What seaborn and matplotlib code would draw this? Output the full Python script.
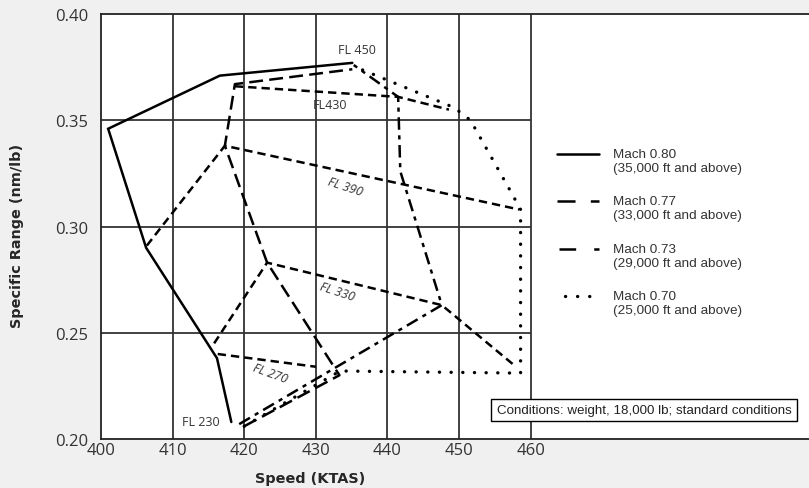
import numpy as np
import pandas as pd

import seaborn as sns
import matplotlib.pyplot as plt


# speed (KTAS) / specific range (nm/lb)
mach080_speed = [418.2, 416.2, 406.3, 401.0, 416.6, 435.1]
mach080_sr = [0.208, 0.238, 0.290, 0.346, 0.371, 0.377]

mach077_speed = [420.0, 433.3, 423.2, 417.3, 418.7, 435.1]
mach077_sr = [0.206, 0.230, 0.283, 0.338, 0.367, 0.374]

mach073_speed = [419.3, 447.6, 441.8, 441.5, 435.3]
mach073_sr = [0.207, 0.263, 0.326, 0.361, 0.376]

mach070_speed = [420.0, 433.4, 458.6, 458.6, 457.3, 451.6, 449.3, 436.3]
mach070_sr = [0.206, 0.232, 0.231, 0.308, 0.316, 0.350, 0.356, 0.374]

fl430_speed = [418.7, 441.5, 448.6]
fl430_sr = [0.366, 0.361, 0.355]

fl390_speed = [406.4, 417.3, 458.4]
fl390_sr = [0.291, 0.338, 0.308]

fl330_speed = [415.8, 423.2, 447.6, 457.6]
fl330_sr = [0.245, 0.283, 0.263, 0.235]

fl270_speed = [416.3, 430.0]
fl270_sr = [0.240, 0.234]

x_ticks = [400, 410, 420, 430, 440, 450, 460]
y_ticks = [0.20, 0.25, 0.30, 0.35, 0.40]

legend_labels = ["Mach 0.80", "Mach 0.77", "Mach 0.73", "Mach 0.70"]
legend_notes = ["(35,000 ft and above)", "(33,000 ft and above)",
                "(29,000 ft and above)", "(25,000 ft and above)"]


sns.set_theme(style="white")
plt.rcParams["font.family"] = ["Open Sans", "DejaVu Sans"]
plt.rcParams["lines.scale_dashes"] = False

SOLID = "-"
LONG = (0, (10, 4.5))
LONG_SHORT = (0, (9, 4, 3, 4))
DOTS = (0, (0.1, 8.3))
MEDIUM = (0, (6, 3.6))

fig = plt.figure(figsize=(8.09, 4.89), dpi=100, facecolor="#f0f0f0")
ax = fig.add_axes([101 / 809, 49 / 489, 708 / 809, 425 / 489])
ax.set_facecolor("white")

x_max = 400 + 708 / 7.16


def px_x(px):
    return 400 + (px - 101) / 7.16


def px_y(py):
    return 0.20 + (440 - py) / 2125


# grid (only over the 400-460 region)
ax.vlines(x_ticks[1:], 0.20, 0.40, color="#333333", lw=1.3, zorder=1)
ax.hlines(y_ticks[1:-1], 400, 460, color="#333333", lw=1.3, zorder=1)

series = [
    (mach080_speed, mach080_sr, SOLID, 1.8, "butt"),
    (mach077_speed, mach077_sr, LONG, 1.8, "butt"),
    (mach073_speed, mach073_sr, LONG_SHORT, 1.8, "butt"),
    (mach070_speed, mach070_sr, DOTS, 2.4, "round"),
    (fl430_speed, fl430_sr, MEDIUM, 1.8, "butt"),
    (fl390_speed, fl390_sr, MEDIUM, 1.8, "butt"),
    (fl330_speed, fl330_sr, MEDIUM, 1.8, "butt"),
    (fl270_speed, fl270_sr, MEDIUM, 1.8, "butt"),
]

for xs, ys, ls, lw, cap in series:
    df = pd.DataFrame({"speed": xs, "sr": ys})
    sns.lineplot(
        data=df,
        x="speed",
        y="sr",
        sort=False,
        estimator=None,
        color="black",
        linestyle=ls,
        lw=lw,
        dash_capstyle=cap,
        solid_joinstyle="miter",
        ax=ax,
        zorder=3
    )

# flight level labels
lab_kw = dict(color="#333333", fontsize=9, ha="center", va="center", zorder=4)
ax.text(435.8, 0.3835, "FL 450", **lab_kw)
ax.text(432.0, 0.3576, "FL430", **lab_kw)
ax.text(414.0, 0.2080, "FL 230", **lab_kw)
ax.text(434.1, 0.3191, "FL 390", rotation=-18, style="italic", **lab_kw)
ax.text(433.0, 0.2697, "FL 330", rotation=-18, style="italic", **lab_kw)
ax.text(423.6, 0.2311, "FL 270", rotation=-20, style="italic", **lab_kw)

# legend drawn in the right-hand panel
styles = [
    (557, SOLID, 1.8, "butt"),
    (557, (0, (13, 11)), 1.8, "butt"),
    (559, (0, (12, 13, 4, 40)), 1.8, "butt"),
    (565, (0, (0.1, 8.6)), 2.4, "round"),
]
leg_y = [155, 202, 250, 297]
for (x0, ls, lw, cap), py, lbl, note in zip(styles, leg_y, legend_labels, legend_notes):
    yy = px_y(py)
    ax.plot([px_x(x0), px_x(599 if x0 < 560 else 592)], [yy, yy],
            color="black", linestyle=ls, lw=lw, dash_capstyle=cap)
    ax.text(px_x(613), px_y(py - 6), lbl + "\n" + note,
            fontsize=9.7, family="Liberation Sans", color="#333333",
            va="top", ha="left", linespacing=1.22)

# conditions box
ax.text(px_x(644), px_y(411),
        "Conditions: weight, 18,000 lb; standard conditions",
        fontsize=9.6, family="Liberation Sans", color="#222222",
        ha="center", va="center", zorder=5,
        bbox=dict(boxstyle="square,pad=0.4", fc="white", ec="black", lw=1))

ax.set_xlim(400, x_max)
ax.set_ylim(0.20, 0.40)
ax.set_xticks(x_ticks)
ax.set_yticks(y_ticks)
ax.set_xticklabels([str(v) for v in x_ticks])
ax.set_yticklabels([f"{v:.2f}" for v in y_ticks])
ax.tick_params(axis="both", length=0, labelsize=12, labelcolor="#333333")
ax.tick_params(axis="x", pad=2)
ax.tick_params(axis="y", pad=9)

for side in ["top", "bottom", "left"]:
    ax.spines[side].set_color("#222222")
    ax.spines[side].set_linewidth(1.3)
ax.spines["right"].set_visible(False)

ax.set_xlabel("")
ax.set_ylabel("")
fig.text(310 / 809, 1 - 479 / 489, "Speed (KTAS)", fontsize=10.4, weight="bold",
         family="DejaVu Sans", ha="center", va="center")
fig.text(17 / 809, 1 - 236 / 489, "Specific Range (nm/lb)", fontsize=10.4,
         weight="bold", family="DejaVu Sans", rotation=90,
         ha="center", va="center")

fig.savefig("out.png", dpi=100, facecolor=fig.get_facecolor())
plt.close()
